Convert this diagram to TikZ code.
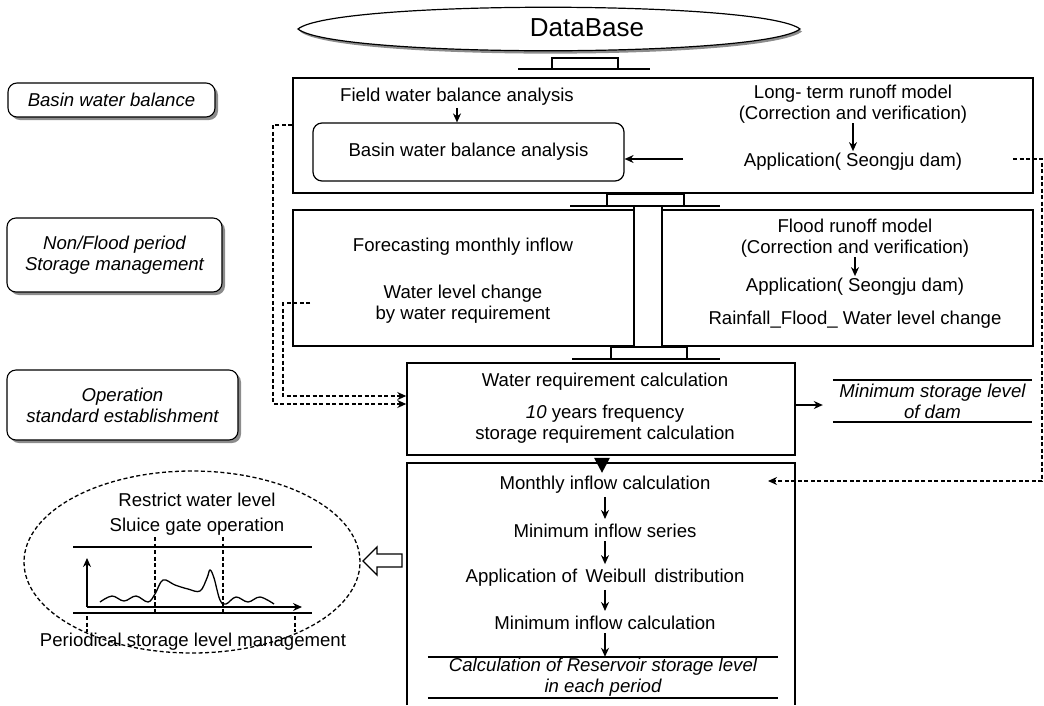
\documentclass[tikz,border=0pt]{standalone}
\usepackage{fontspec}
\setmainfont{Liberation Sans}
\usetikzlibrary{arrows.meta,shapes.geometric,shadows,calc}
\newcommand\bodyfs{\fontsize{18.6}{21}\selectfont}
\begin{document}
\begin{tikzpicture}[x=1pt,y=-1pt,
  every node/.style={inner sep=0pt, font=\bodyfs, align=center},
  frame/.style={draw, line width=1.5pt},
  arr/.style={-{Stealth[length=9pt,width=8pt]}, line width=1.4pt},
  dsh/.style={dash pattern=on 4pt off 2.5pt, line width=1.3pt},
  heavy/.style={line width=2pt},
  lbl/.style={draw, line width=1.1pt, rounded corners=9pt, fill=white, font=\bodyfs\itshape,
    drop shadow={shadow xshift=3pt, shadow yshift=-3pt, fill=black!45, opacity=1}},
  it/.style={font=\bodyfs\itshape},
]
\useasboundingbox (0,0) rectangle (1044,705);

% ---------- DataBase ----------
\fill[black!45] (300,31.5) .. controls (335,2.5) and (765,2.5) .. (802,31.5) .. controls (765,61) and (335,61) .. (300,31.5) -- cycle;
\draw[fill=white, line width=1.2pt] (298,29) .. controls (333,0) and (763,0) .. (800,29) .. controls (763,58) and (333,58) .. (298,29) -- cycle;
\node (db) at (587,28) {\fontsize{26}{28}\selectfont DataBase};

% flange under DataBase
\draw[line width=1.3pt] (518,69) -- (650,69);
\draw[line width=1.3pt] (552,69) -- (552,58) -- (618,58) -- (618,69);
\draw[line width=2.5pt] (552,58) -- (618,58);

% ---------- top box ----------
\node[frame, minimum width=740, minimum height=115] (topbox) at (663,135.5) {};
\node (fwba) at (457,97) {Field water balance analysis};
\node[draw, line width=1.2pt, rounded corners=9pt, minimum width=311, minimum height=58] (bwba) at (468.5,152) {Basin water balance analysis};
\draw[arr, shorten <=2pt] (fwba.south) -- (fwba.south |- bwba.north);
\node (ltrm) at (853,104) {Long- term runoff model\\(Correction and verification)};
\node (app1) at (853,162) {Application( Seongju dam)};
\draw[arr, shorten >=2pt] (ltrm.south) -- (app1.north);
\coordinate (a1s) at (683,159);
\draw[arr] (a1s) -- (bwba.east |- a1s);

% flange between top and middle
\draw[line width=1.3pt] (570,206) -- (720,206);
\draw[line width=1.3pt] (607,206) -- (607,194) -- (684,194) -- (684,206);
\draw[line width=2.5pt] (607,194) -- (684,194);
\draw[line width=1.5pt] (634,206) -- (634,210) (662,206) -- (662,210);

% ---------- middle boxes ----------
\node[frame, minimum width=341, minimum height=136] (ml) at (463.5,278) {};
\node[frame, minimum width=371, minimum height=136] (mr) at (847.5,278) {};
\node (fmi) at (463,247) {Forecasting monthly inflow};
\node (wlc) at (463,304) {Water level change\\by water requirement};
\node (frm) at (855,238) {Flood runoff model\\(Correction and verification)};
\node (app2) at (855,287) {Application( Seongju dam)};
\draw[arr, shorten >=2pt] (frm.south) -- (frm.south |- app2.north);
\node (rfw) at (855,320) {Rainfall\_Flood\_ Water level change};

% flange between middle and water requirement
\draw[line width=1.3pt] (572,359) -- (720,359);
\draw[line width=1.3pt] (611,359) -- (611,347) -- (687,347) -- (687,359);
\draw[line width=2.5pt] (611,347) -- (687,347);

% ---------- water requirement ----------
\node[frame, minimum width=388, minimum height=92] (wrc) at (601,409) {};
\node (wrt) at (605,382) {Water requirement calculation};
\node (yrs) at (605,424) {{\itshape 10} years frequency\\storage requirement calculation};

\node[it, minimum width=199, minimum height=42] (msl) at (932.5,401) {Minimum storage level\\of dam};
\draw[heavy] (msl.north west) -- (msl.north east) (msl.south west) -- (msl.south east);
\draw[arr] ($(wrc.east)+(0,-4)$) -- ($(msl.west)+(-10,4)$);

\fill ($(wrc.south)+(-7,2)$) -- ($(wrc.south)+(9,2)$) -- ($(wrc.south)+(1,17)$) -- cycle;

% ---------- bottom box ----------
\node[minimum width=388, minimum height=242] (bot) at (601,584) {};
\draw[frame] (bot.south west) -- (bot.north west) -- (bot.north east) -- (bot.south east);
\node (mic) at (605,485) {Monthly inflow calculation};
\node (mis) at (605,531) {Minimum inflow series};
\node (awd) at (605,578) {Application of\, Weibull\, distribution};
\node (minc) at (605,623) {Minimum inflow calculation};
\draw[arr, shorten <=3pt, shorten >=5pt] (mic) -- (mis);
\draw[arr, shorten <=3pt, shorten >=5pt] (mis) -- (awd);
\draw[arr, shorten <=3pt, shorten >=5pt] (awd) -- (minc);
\node[it, minimum width=350, minimum height=41] (crs) at (603,677.5) {Calculation of Reservoir storage level\\in each period};
\draw[heavy] (crs.north west) -- (crs.north east) (crs.south west) -- (crs.south east);
\draw[arr, shorten <=3pt] (minc.south) -- (minc.south |- crs.north);

% ---------- dashed connectors ----------
\coordinate (r0) at (1013,159);
\coordinate (r1) at (768,481);
\draw[dsh, arr] (r0) -- (1042,159) -- (1042,481) -- (r1);
\draw[dsh, arr] (topbox.west |- 0,125) -- (273,125) -- (273,404) -- (wrc.west |- 0,404);
\coordinate (l2s) at (310,303);
\draw[dsh, arr] (l2s) -- (283,303) -- (283,396) -- (wrc.west |- 0,396);

% ---------- left labels ----------
\node[lbl, minimum width=207, minimum height=34] (l1) at (111.5,100) {Basin water balance};
\node[lbl, minimum width=215, minimum height=74] (l2) at (114.5,255) {Non/Flood period\\Storage management};
\node[lbl, minimum width=231, minimum height=70] (l3) at (122.5,405) {Operation\\standard establishment};

% ---------- storage level management ellipse ----------
\node[draw, dsh, ellipse, minimum width=336, minimum height=182] (ell) at (192,562) {};
\node (rwl) at (197,500) {Restrict water level};
\node (sgo) at (197,527) {Sluice gate operation};
\draw[line width=2.2pt] (73,547) -- (312,547) (73,613) -- (312,613);
\draw[arr] (87,607) -- (87,558);
\draw[arr] (87,607) -- (302,607);
\draw[dsh] (155,537) -- (155,613) (223,537) -- (223,613) (87,616) -- (87,632) (295,616) -- (295,632);
\draw[line width=1.3pt] plot[smooth, tension=0.6] coordinates {(100,602) (112,596) (124,601) (136,596) (148,602) (155,594) (163,580) (175,585) (188,589) (200,591) (207,578) (210,570) (214,578) (220,600) (226,604) (236,597) (248,602) (260,597) (274,604)};
\node (psl) at (193,642) {Periodical storage level management};
\draw[line width=1.3pt, fill=white] (402,554) -- (377,554) -- (377,547) -- (363,561) -- (377,575) -- (377,567) -- (402,567) -- cycle;
\end{tikzpicture}
\end{document}
